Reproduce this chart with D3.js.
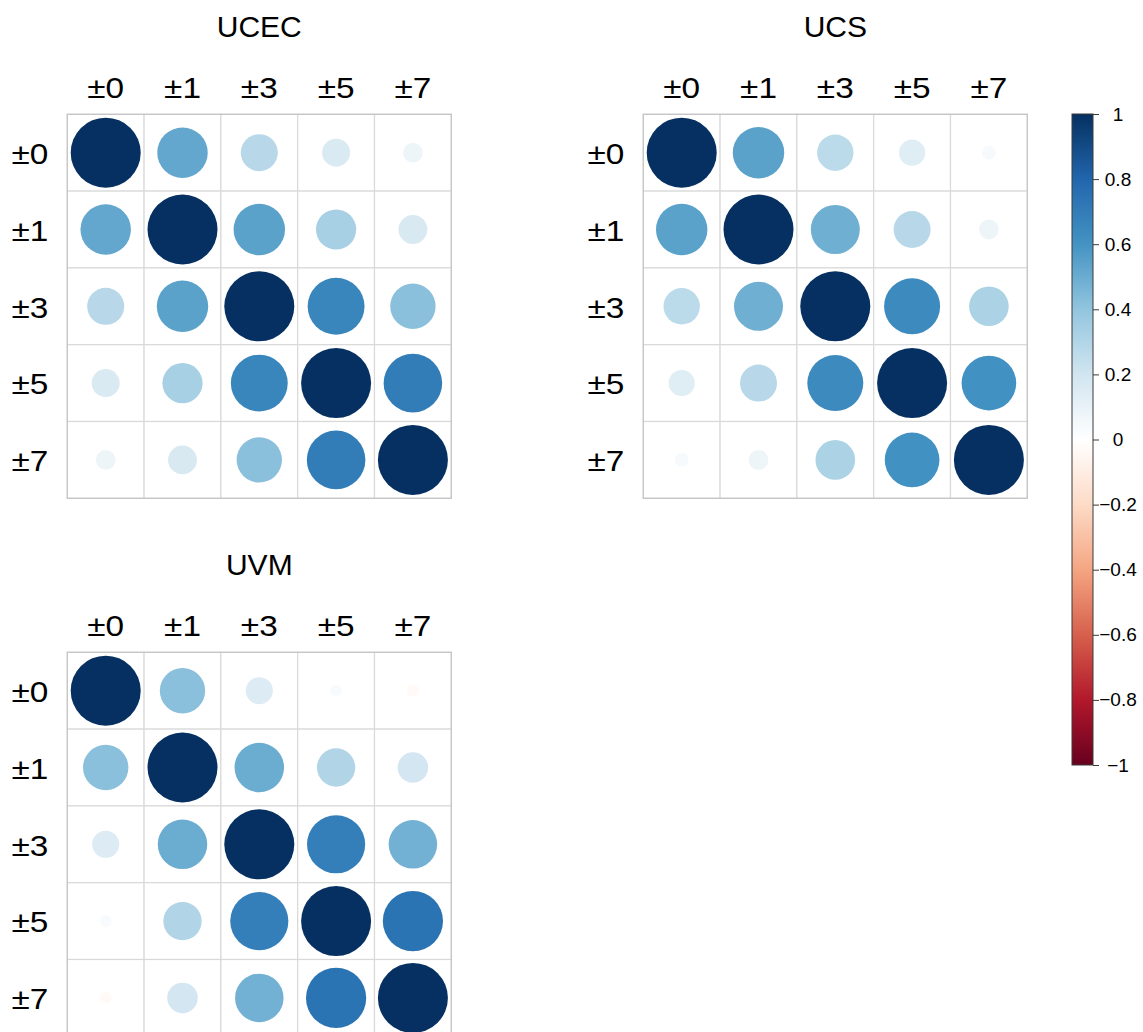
<!DOCTYPE html>
<html>
<head>
<meta charset="utf-8">
<script src="https://cdn.jsdelivr.net/npm/d3@7"></script>
<style>
  html, body { margin: 0; padding: 0; background: #fff; }
  svg { display: block; font-family: "Liberation Sans", Arial, sans-serif; }
</style>
</head>
<body>
<svg id="chart" width="1143" height="1032"></svg>
<script>
// Lag windows used on both axes of every matrix
const lagLabels = ["±0", "±1", "±3", "±5", "±7"];

// Pairwise correlations between lag windows, one matrix per cohort
const ucecCorr = [
  [1.00, 0.52, 0.28, 0.16, 0.08],
  [0.52, 1.00, 0.54, 0.33, 0.17],
  [0.28, 0.54, 1.00, 0.66, 0.42],
  [0.16, 0.33, 0.66, 1.00, 0.70],
  [0.08, 0.17, 0.42, 0.70, 1.00]
];
const ucsCorr = [
  [1.00, 0.54, 0.27, 0.14, 0.04],
  [0.54, 1.00, 0.49, 0.28, 0.08],
  [0.27, 0.49, 1.00, 0.64, 0.32],
  [0.14, 0.28, 0.64, 1.00, 0.61],
  [0.04, 0.08, 0.32, 0.61, 1.00]
];
const uvmCorr = [
  [1.00, 0.42, 0.15, 0.03, -0.03],
  [0.42, 1.00, 0.50, 0.30, 0.19],
  [0.15, 0.50, 1.00, 0.69, 0.48],
  [0.03, 0.30, 0.69, 1.00, 0.74],
  [-0.03, 0.19, 0.48, 0.74, 1.00]
];

const panelTitles = ["UCEC", "UCS", "UVM"];
const panelMatrices = [ucecCorr, ucsCorr, uvmCorr];

// Colour legend tick values
const legendTicks = [-1, -0.8, -0.6, -0.4, -0.2, 0, 0.2, 0.4, 0.6, 0.8, 1];

// Diverging red-white-blue palette (11 stops from -1 to 1)
const paletteStops = ["#67001F", "#B2182B", "#D6604D", "#F4A582", "#FDDBC7",
  "#FFFFFF", "#D1E5F0", "#92C5DE", "#4393C3", "#2166AC", "#053061"];

// ---- layout ----
const gridSize = 384;
const panelOrigins = [
  { x: 67.3, y: 114.3 },
  { x: 643.3, y: 114.3 },
  { x: 67.3, y: 652.3 }
];
const maxRadius = 35;
const labelFont = "'Liberation Sans', Arial, sans-serif";

const svg = d3.select("#chart");

const color = d3.scaleLinear()
  .domain(d3.range(paletteStops.length).map(i => -1 + i * 2 / (paletteStops.length - 1)))
  .range(paletteStops)
  .interpolate(d3.interpolateRgb);

const radius = d3.scaleSqrt().domain([0, 1]).range([0, maxRadius]);

panelMatrices.forEach((matrix, p) => {
  const o = panelOrigins[p];
  const x = d3.scaleBand().domain(lagLabels).range([o.x, o.x + gridSize]);
  const y = d3.scaleBand().domain(lagLabels).range([o.y, o.y + gridSize]);
  const g = svg.append("g");

  const cells = [];
  matrix.forEach((row, i) => row.forEach((v, j) => cells.push({ r: lagLabels[i], c: lagLabels[j], v })));

  // grid cells
  g.append("g").selectAll("rect").data(cells).join("rect")
    .attr("x", d => x(d.c))
    .attr("y", d => y(d.r))
    .attr("width", x.bandwidth())
    .attr("height", y.bandwidth())
    .attr("fill", "#fff")
    .attr("stroke", "#d9d9d9")
    .attr("stroke-width", 1.2);

  g.append("rect")
    .attr("x", o.x).attr("y", o.y)
    .attr("width", gridSize).attr("height", gridSize)
    .attr("fill", "none")
    .attr("stroke", "#c4c4c4")
    .attr("stroke-width", 1.2);

  // correlation circles: area proportional to |r|
  g.append("g").selectAll("circle").data(cells).join("circle")
    .attr("cx", d => x(d.c) + x.bandwidth() / 2)
    .attr("cy", d => y(d.r) + y.bandwidth() / 2)
    .attr("r", d => radius(Math.abs(d.v)))
    .attr("fill", d => color(d.v));

  // column labels
  const top = g.append("g")
    .attr("transform", `translate(0,${o.y - 16})`)
    .call(d3.axisTop(x).tickSize(0).tickPadding(0));
  top.select(".domain").remove();
  top.selectAll("text")
    .attr("font-size", 29)
    .attr("font-family", labelFont)
    .attr("transform", "scale(1.15,1)")
    .attr("fill", "#000");

  // row labels
  const left = g.append("g")
    .attr("transform", `translate(${o.x - 19},0)`)
    .call(d3.axisLeft(y).tickSize(0).tickPadding(0));
  left.select(".domain").remove();
  left.selectAll("text")
    .attr("font-size", 29)
    .attr("font-family", labelFont)
    .attr("dy", "0.39em")
    .attr("transform", "scale(1.15,1)")
    .attr("fill", "#000");

  // panel title
  g.append("text")
    .attr("x", o.x + gridSize / 2)
    .attr("y", o.y - 77)
    .attr("text-anchor", "middle")
    .attr("font-size", 30)
    .attr("fill", "#000")
    .text(panelTitles[p]);
});

// ---- colour legend ----
const barX = 1072, barW = 21, barTop = 114, barBottom = 765;
const ly = d3.scaleLinear().domain([-1, 1]).range([barBottom, barTop]);

const grad = svg.append("defs").append("linearGradient")
  .attr("id", "corrGradient")
  .attr("x1", 0).attr("y1", 1).attr("x2", 0).attr("y2", 0);
grad.selectAll("stop").data(d3.range(0, 1.0001, 0.02)).join("stop")
  .attr("offset", d => d)
  .attr("stop-color", d => color(-1 + 2 * d));

svg.append("rect")
  .attr("x", barX).attr("y", barTop)
  .attr("width", barW).attr("height", barBottom - barTop)
  .attr("fill", "url(#corrGradient)")
  .attr("stroke", "#3a3a3a")
  .attr("stroke-width", 1);

const legendAxis = svg.append("g")
  .attr("transform", `translate(${barX + barW},0)`)
  .call(d3.axisRight(ly)
    .tickValues(legendTicks)
    .tickSize(6)
    .tickFormat(d => d3.format("")(+d.toFixed(1))));
legendAxis.select(".domain").remove();
legendAxis.selectAll("line").attr("stroke", "#3a3a3a");
legendAxis.selectAll("text")
  .attr("x", 25)
  .attr("text-anchor", "middle")
  .attr("font-size", 19)
  .attr("font-family", labelFont)
  .attr("fill", "#000");
</script>
</body>
</html>
